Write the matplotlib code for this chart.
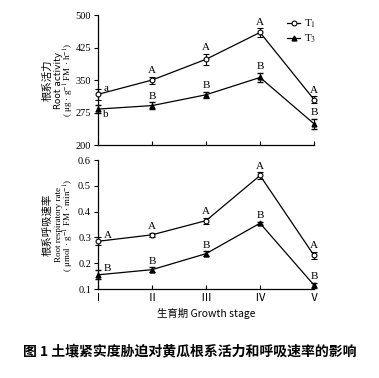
import matplotlib
matplotlib.use("Agg")
import matplotlib.pyplot as plt
from matplotlib.lines import Line2D

plt.rcParams['font.family'] = ['Liberation Serif', 'Noto Sans CJK SC', 'DejaVu Sans']
plt.rcParams['mathtext.fontset'] = 'stix'

stages = ["Ⅰ", "Ⅱ", "Ⅲ", "Ⅳ", "Ⅴ"]
x = [0, 1, 2, 3, 4]

act_t1 = [317, 350, 398, 460, 305]
act_t1_err = [12, 8, 13, 10, 8]
act_t3 = [283, 291, 316, 356, 249]
act_t3_err = [10, 8, 7, 11, 12]
act_lab_t1 = ["a", "A", "A", "A", "A"]
act_lab_t3 = ["b", "B", "B", "B", "B"]

resp_t1 = [0.285, 0.310, 0.365, 0.540, 0.230]
resp_t1_err = [0.015, 0.008, 0.012, 0.012, 0.015]
resp_t3 = [0.155, 0.175, 0.237, 0.355, 0.115]
resp_t3_err = [0.018, 0.010, 0.010, 0.006, 0.010]
resp_lab_t1 = ["A", "A", "A", "A", "A"]
resp_lab_t3 = ["B", "B", "B", "B", "B"]

fig = plt.figure(figsize=(3.79, 3.78), dpi=100)
ax1 = fig.add_axes([0.2586, 0.6164, 0.57, 0.3436])
ax2 = fig.add_axes([0.2586, 0.2354, 0.57, 0.3413])

def draw(ax, y1, e1, y3, e3, l1, l3, ylim, yticks, ytl, first_labels):
    ax.errorbar(x, y1, yerr=e1, color='black', lw=0.9, marker='o', ms=3.5,
                mfc='white', mec='black', mew=0.8, capsize=2.5, elinewidth=0.8,
                clip_on=False, zorder=3)
    ax.errorbar(x, y3, yerr=e3, color='black', lw=0.9, marker='^', ms=3.5,
                mfc='black', mec='black', capsize=2.5, elinewidth=0.8,
                clip_on=False, zorder=3)
    ax.set_xlim(0, 4)
    ax.set_ylim(*ylim)
    ax.set_yticks(yticks)
    ax.set_yticklabels(ytl, fontsize=7.5)
    for s in ['top', 'right']:
        ax.spines[s].set_visible(False)
    for s in ['left', 'bottom']:
        ax.spines[s].set_linewidth(0.9)
    ax.tick_params(axis='y', direction='out', length=3, width=0.8, pad=2)
    ax.tick_params(axis='x', direction='in', length=3, width=0.8)
    rng = ylim[1] - ylim[0]
    for i in range(5):
        if i == 0:
            ax.text(x[i] + 0.1, y1[i] + e1[i] * 0.3, l1[i], fontsize=8, ha='left', va='bottom')
            if first_labels == 'below':
                ax.text(x[i] + 0.1, y3[i] - e3[i] * 0.3, l3[i], fontsize=8, ha='left', va='top')
            else:
                ax.text(x[i] + 0.1, y3[i] + e3[i] * 0.3, l3[i], fontsize=8, ha='left', va='bottom')
        else:
            ax.text(x[i], y1[i] + e1[i] + rng * 0.01, l1[i], fontsize=8, ha='center', va='bottom')
            ax.text(x[i], y3[i] + e3[i] + rng * 0.01, l3[i], fontsize=8, ha='center', va='bottom')

draw(ax1, act_t1, act_t1_err, act_t3, act_t3_err, act_lab_t1, act_lab_t3,
     (200, 500), [200, 275, 350, 425, 500], ['200', '275', '350', '425', '500'], 'below')
ax1.set_xticks(x)
ax1.set_xticklabels([])
handles = [
    Line2D([], [], color='black', lw=0.9, marker='o', ms=3.5, mfc='white', mec='black', mew=0.8),
    Line2D([], [], color='black', lw=0.9, marker='^', ms=3.5, mfc='black', mec='black'),
]
ax1.legend(handles, ['T$_1$', 'T$_3$'], loc='upper left', bbox_to_anchor=(0.875, 0.98),
           frameon=False, fontsize=8, handlelength=1.2, handletextpad=0.3,
           labelspacing=0.2, borderaxespad=0, borderpad=0)

draw(ax2, resp_t1, resp_t1_err, resp_t3, resp_t3_err, resp_lab_t1, resp_lab_t3,
     (0.1, 0.6), [0.1, 0.2, 0.3, 0.4, 0.5, 0.6], ['0.1', '0.2', '0.3', '0.4', '0.5', '0.6'], 'above')
ax2.set_xticks(x)
ax2.set_xticklabels(stages, fontsize=8, family=['Noto Sans CJK SC', 'DejaVu Sans'])
ax2.tick_params(axis='x', pad=3)

fig.text(0.125, 0.788, '根系活力', rotation=90, ha='center', va='center', fontsize=7.5,
         family=['Noto Sans CJK SC', 'DejaVu Sans'])
fig.text(0.155, 0.788, 'Root activity', rotation=90, ha='center', va='center', fontsize=6.5,
         family=['DejaVu Sans'])
fig.text(0.182, 0.788, '( μg · g$^{-1}$ FM · h$^{-1}$)', rotation=90, ha='center', va='center', fontsize=6.5)

fig.text(0.125, 0.405, '根系呼吸速率', rotation=90, ha='center', va='center', fontsize=7.5,
         family=['Noto Sans CJK SC', 'DejaVu Sans'])
fig.text(0.155, 0.405, 'Root respiratory rate', rotation=90, ha='center', va='center', fontsize=6.5)
fig.text(0.182, 0.405, '( μmol · g$^{-1}$ FM · min$^{-1}$)', rotation=90, ha='center', va='center', fontsize=6.5)

fig.text(0.544, 0.170, '生育期 Growth stage', ha='center', va='center', fontsize=7.5,
         family=['Noto Sans CJK SC', 'Liberation Serif'])
fig.text(0.50, 0.068, '图 1 土壤紧实度胁迫对黄瓜根系活力和呼吸速率的影响', ha='center', va='center',
         fontsize=10, fontweight='bold', family=['Noto Sans CJK SC', 'DejaVu Sans'])

fig.savefig('out.png', dpi=100)
